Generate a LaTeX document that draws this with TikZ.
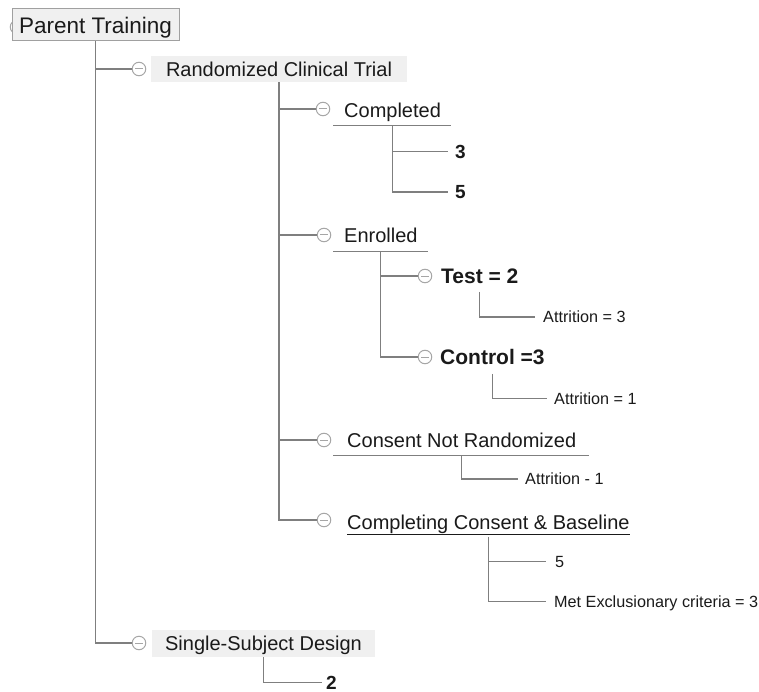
\documentclass[tikz,border=0pt]{standalone}
\usepackage{fontspec}
\setmainfont{Liberation Sans}
\usetikzlibrary{calc}
\definecolor{linegray}{HTML}{7F7F7F}
\definecolor{icongray}{HTML}{A6A6A6}
\definecolor{boxfill}{HTML}{F0F0F0}
\definecolor{boxline}{HTML}{A0A0A0}
\definecolor{txt}{HTML}{1A1A1A}
\tikzset{
  conn/.style={draw=linegray, line width=1.1pt},
  tog/.style={circle, draw=icongray, fill=white, line width=1pt, minimum size=13.5pt, inner sep=0pt,
    path picture={\draw[icongray, line width=1pt] ([xshift=-4pt]path picture bounding box.center) -- ([xshift=4pt]path picture bounding box.center);}},
  lbl/.style={anchor=west, inner sep=0pt, text height=14.4pt, text depth=0pt, font=\fontsize{20}{24}\selectfont, text=txt},
  small/.style={anchor=west, inner sep=0pt, text height=11.7pt, text depth=0pt, font=\fontsize{16.2}{20}\selectfont, text=txt},
  bnum/.style={anchor=west, inner sep=0pt, text height=13.7pt, text depth=0pt, font=\bfseries\fontsize{19}{23}\selectfont, text=txt},
  bhead/.style={anchor=west, inner sep=0pt, text height=15.1pt, text depth=0pt, font=\bfseries\fontsize{21}{25}\selectfont, text=txt},
  lvlbox/.style={fill=boxfill, inner sep=0pt, text height=14.4pt, text depth=0pt, font=\fontsize{20}{24}\selectfont, text=txt},
}
\begin{document}
\begin{tikzpicture}[x=1pt,y=-1pt]
\useasboundingbox (0,0) rectangle (759,692);
% root
\node[tog] (t-root) at (17,27) {};
\node[draw=boxline, fill=boxfill, line width=1pt, minimum width=167pt, minimum height=32pt, inner sep=0pt,
  text height=16.2pt, text depth=0pt, font=\fontsize{22.5}{27}\selectfont, text=txt] (root) at (95.5,25) {Parent Training};
% level 1
\node[tog] (t-rct) at (139,69) {};
\node[lvlbox, minimum width=256pt, minimum height=26pt] (rct) at (279,69) {Randomized Clinical Trial};
\node[tog] (t-ssd) at (139,643) {};
\node[lvlbox, minimum width=223pt, minimum height=27pt] (ssd) at (263.5,643.5) {Single-Subject Design};
\draw[conn] (root.south) |- (t-rct.west);
\draw[conn] (root.south) |- (t-ssd.west);
% single subject child
\node[bnum] (s2) at (326,682.5) {2};
\draw[conn, shorten >=4pt] (ssd.south) |- (s2.west);
% level 2 under RCT
\node[tog] (t-comp) at (323,109) {};
\node[lbl] (comp) at (344,110) {Completed};
\node[tog] (t-enr) at (324,235) {};
\node[lbl] (enr) at (344,235) {Enrolled};
\node[tog] (t-cnr) at (324,440) {};
\node[lbl] (cnr) at (347,440) {Consent Not Randomized};
\node[tog] (t-ccb) at (324,520) {};
\node[lbl] (ccb) at (347,522.5) {Completing Consent \& Baseline};
\draw[conn] (rct.south) |- (t-comp.west);
\draw[conn] (rct.south) |- (t-enr.west);
\draw[conn] (rct.south) |- (t-cnr.west);
\draw[conn] (rct.south) |- (t-ccb.west);
% Completed
\coordinate (comp-l) at ([xshift=-11pt,yshift=-8.5pt]comp.south west);
\coordinate (comp-r) at ([xshift=10pt,yshift=-8.5pt]comp.south east);
\draw[conn] (comp-l) -- (comp-r);
\coordinate (comp-m) at ($(comp-l)!0.5!(comp-r)$);
\node[bnum] (c3) at (455,151.5) {3};
\node[bnum] (c5) at (455,192) {5};
\draw[conn, shorten >=7pt] (comp-m) |- (c3.west);
\draw[conn, shorten >=7pt] (comp-m) |- (c5.west);
% Enrolled
\coordinate (enr-l) at ([xshift=-11pt,yshift=-9pt]enr.south west);
\coordinate (enr-r) at ([xshift=10pt,yshift=-9pt]enr.south east);
\draw[conn] (enr-l) -- (enr-r);
\coordinate (enr-m) at ($(enr-l)!0.5!(enr-r)$);
\node[tog] (t-test) at (425,276) {};
\node[bhead] (test) at (441,276) {Test = 2};
\node[tog] (t-ctrl) at (425,357) {};
\node[bhead] (ctrl) at (440,357) {Control =3};
\draw[conn] (enr-m) |- (t-test.west);
\draw[conn] (enr-m) |- (t-ctrl.west);
\node[small] (a3) at (543,317) {Attrition = 3};
\coordinate (test-b) at ([yshift=-8pt]test.south);
\draw[conn, shorten >=8pt] (test-b) |- (a3.west);
\node[small] (a1) at (554,398.5) {Attrition = 1};
\coordinate (ctrl-b) at ([yshift=-9pt]ctrl.south);
\draw[conn, shorten >=7pt] (ctrl-b) |- (a1.west);
% Consent not randomized
\coordinate (cnr-l) at ([xshift=-14pt,yshift=-8.5pt]cnr.south west);
\coordinate (cnr-r) at ([xshift=13pt,yshift=-8.5pt]cnr.south east);
\draw[conn] (cnr-l) -- (cnr-r);
\coordinate (cnr-m) at ($(cnr-l)!0.5!(cnr-r)$);
\node[small] (ac) at (525,479) {Attrition - 1};
\draw[conn, shorten >=7pt] (cnr-m) |- (ac.west);
% Completing consent & baseline
\draw[txt, line width=1.1pt] ([yshift=-5pt]ccb.south west) -- ([yshift=-5pt]ccb.south east);
\coordinate (ccb-b) at ([yshift=-7pt]ccb.south);
\node[small] (b5) at (555,561.5) {5};
\node[small] (mec) at (554,601.5) {Met Exclusionary criteria = 3};
\draw[conn, shorten >=9pt] (ccb-b) |- (b5.west);
\draw[conn, shorten >=8pt] (ccb-b) |- (mec.west);
\end{tikzpicture}
\end{document}
